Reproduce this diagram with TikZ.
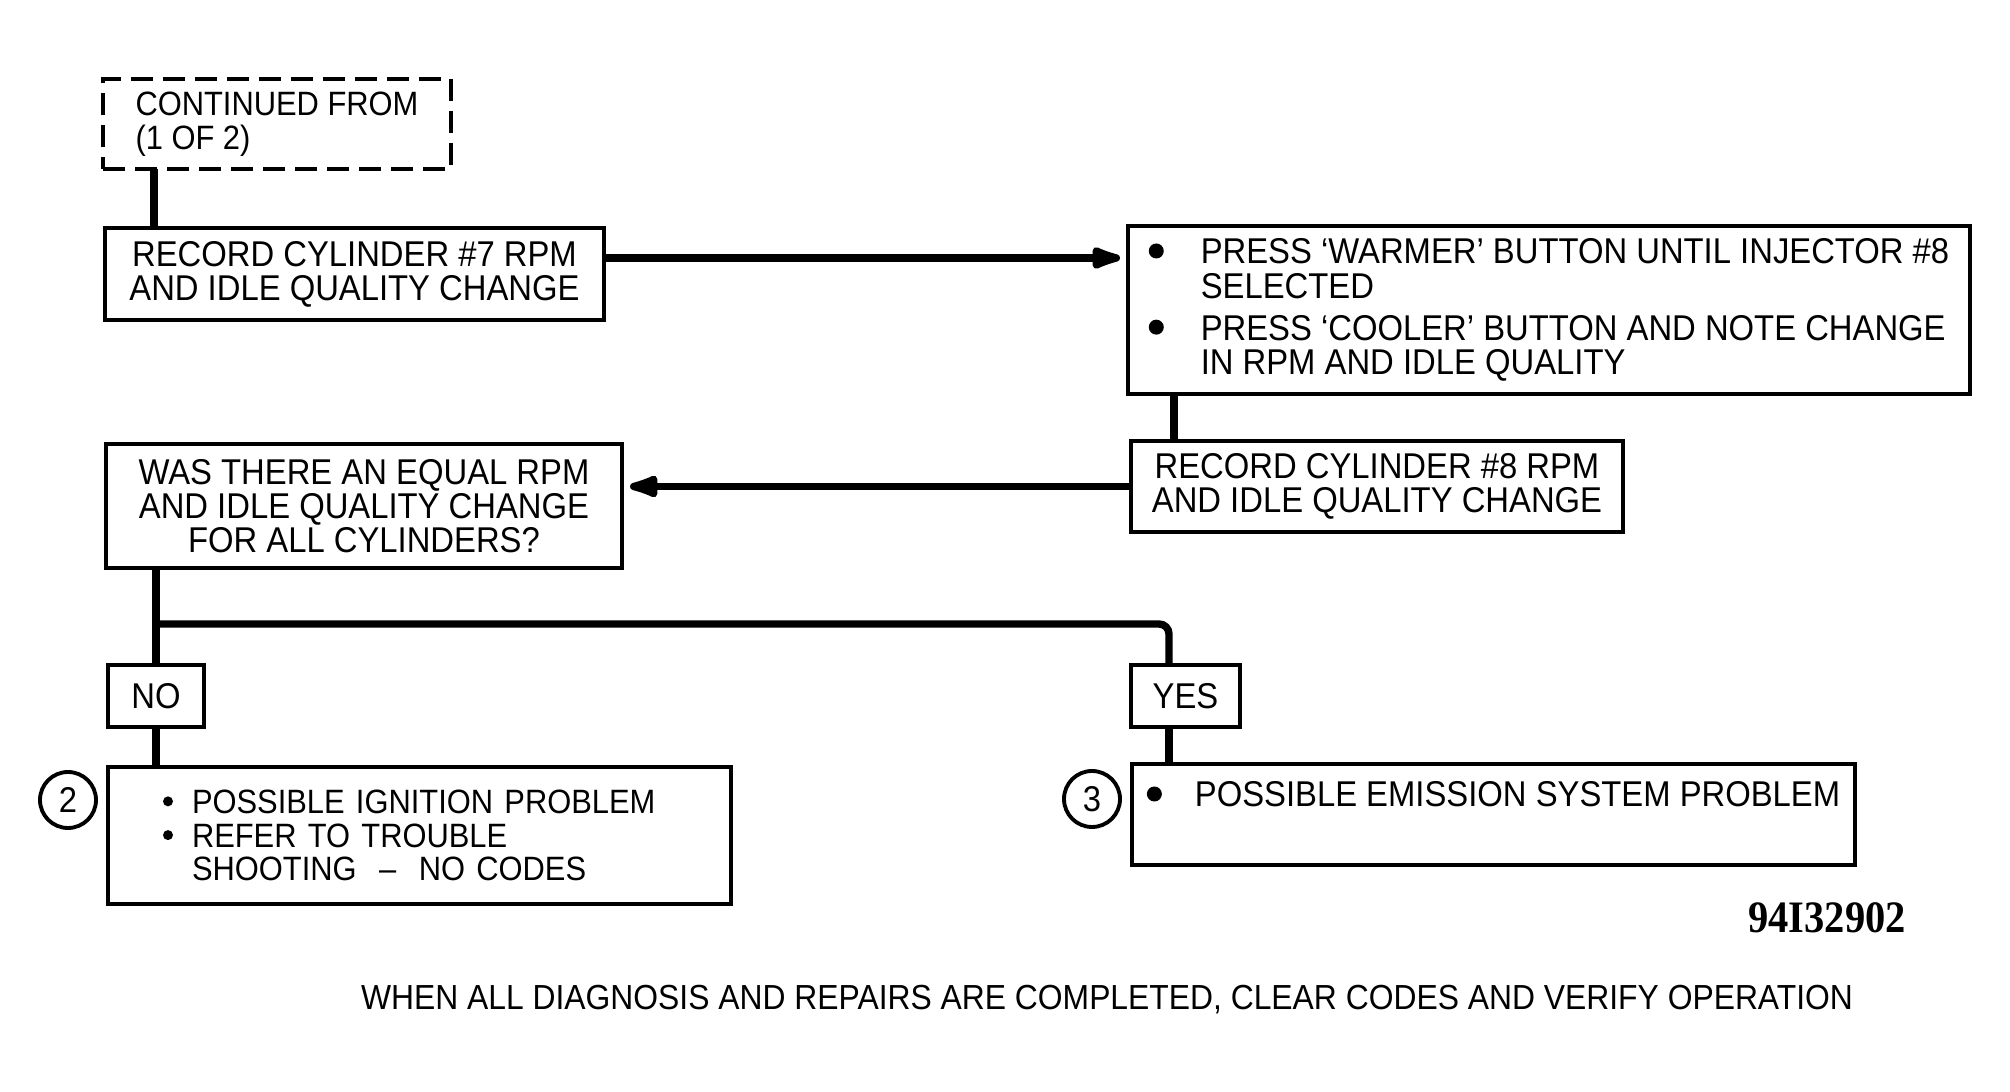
\documentclass[tikz,border=0pt]{standalone}
\usepackage{fontspec}
\setmainfont{Liberation Sans}[FakeStretch=0.915]
\newfontfamily\codefont{Liberation Serif}[FakeStretch=0.9]
\usetikzlibrary{arrows.meta,positioning}

\newcommand{\blt}[1][5.2mm]{\makebox[#1][l]{\tikz[baseline=0pt]\fill (0,1.3mm) circle (0.75mm);}}
\newcommand{\sblt}{\makebox[2.9mm][l]{\tikz[baseline=0pt]\fill (0,1.2mm) circle (0.5mm);}}
\newcommand{\bltin}[1][5.2mm]{\hspace*{#1}}

\begin{document}
\begin{tikzpicture}[
        font=\fontsize{10.2}{9.7}\selectfont,
        box/.style={draw, line width=1.1pt, outer sep=0pt, inner xsep=0pt, inner ysep=0pt, align=center},
        dbox/.style={box, dash pattern=on 2.2mm off 1mm},
        thin/.style={font=\fontsize{9.6}{9.6}\selectfont},
        tag/.style={box, minimum height=6.2mm},
        num/.style={circle, draw, line width=1.1pt, minimum size=5.6mm, inner sep=0pt},
        ln/.style={line width=2.1pt},
        e/.style={ln, -{Latex[length=4.2mm,width=2.6mm,round]}, shorten >=0.8mm}
      ]
        \useasboundingbox (0,0) rectangle (20.10,10.92);

        \node[dbox, thin, align=left, minimum width=34.8mm, minimum height=9mm,
              anchor=north west] (cont) at (1.03,10.13) {CONTINUED FROM\\(1 OF 2)};
        \node[box, minimum width=49.9mm, minimum height=9.2mm,
              below right=5.9mm and 0.2mm of cont.south west] (rec7)
              {RECORD CYLINDER \#7 RPM\\AND IDLE QUALITY CHANGE};
        \node[box, align=left, minimum width=84.2mm, minimum height=16.8mm,
              anchor=north west] (press) at (11.28,8.66)
              {\blt PRESS ‘WARMER’ BUTTON UNTIL INJECTOR \#8\\
               \bltin SELECTED\\[0.8mm]
               \blt PRESS ‘COOLER’ BUTTON AND NOTE CHANGE\\
               \bltin IN RPM AND IDLE QUALITY};
        \node[box, minimum width=49.2mm, minimum height=9.1mm,
              below right=4.7mm and 0.3mm of press.south west] (rec8)
              {RECORD CYLINDER \#8 RPM\\AND IDLE QUALITY CHANGE};
        \node[box, minimum width=51.6mm, minimum height=12.4mm,
              below right=12.4mm and 0.1mm of rec7.south west] (was)
              {WAS THERE AN EQUAL RPM\\AND IDLE QUALITY CHANGE\\FOR ALL CYLINDERS?};
        \node[tag, minimum width=9.6mm, below right=9.7mm and 0.2mm of was.south west] (no) {NO};
        \node[box, thin, align=left, text width=51.3mm, inner xsep=5.5mm, minimum height=13.7mm,
              below right=4mm and 0mm of no.south west] (ign)
              {\sblt POSSIBLE IGNITION PROBLEM\\
               \sblt REFER TO TROUBLE\\
               \bltin[2.9mm]SHOOTING \ – \ NO CODES};
        \node[tag, minimum width=10.9mm, below right=13.3mm and 0mm of rec8.south west] (yes) {YES};
        \node[box, align=left, minimum width=72.3mm, inner ysep=1.7mm, text height=2.6mm,
              text depth=4.1mm, below right=3.7mm and 0.1mm of yes.south west] (emis)
              {\blt[4.8mm]POSSIBLE EMISSION SYSTEM PROBLEM};
        \node[num] (n2) at (0.68,2.92) {2};
        \node[num] (n3) at (10.92,2.93) {3};
        \node[font=\fontsize{12.8}{12.8}\codefont\bfseries] (code) at (18.27,1.74) {94I32902};
        \node[font=\fontsize{9.9}{9.9}\selectfont] (note) at (11.07,0.92)
              {WHEN ALL DIAGNOSIS AND REPAIRS ARE COMPLETED, CLEAR CODES AND VERIFY OPERATION};

        % connectors
        \coordinate (c7) at ([xshift=5.1mm]cont.south west);
        \draw[ln] (c7) -- (c7 |- rec7.north);
        \coordinate (r7out) at ([yshift=1.6mm]rec7.east);
        \draw[e] (r7out) -- (r7out -| press.west);
        \coordinate (p8) at ([xshift=4.6mm]press.south west);
        \draw[ln] (p8) -- (p8 |- rec8.north);
        \draw[e] (rec8.west) -- (rec8.west -| was.east);

        % yes / no split
        \coordinate (yx) at ([xshift=-1.65mm]yes.north);
        \draw[ln] (no.north |- was.south) -- (no.north);
        \draw[ln, rounded corners=1mm] ([yshift=4.1mm]no.north) -| (yx);
        \draw[ln] (no.south) -- (no.south |- ign.north);
        \draw[ln] (yx |- yes.south) -- (yx |- emis.north);
      \end{tikzpicture}
\end{document}
